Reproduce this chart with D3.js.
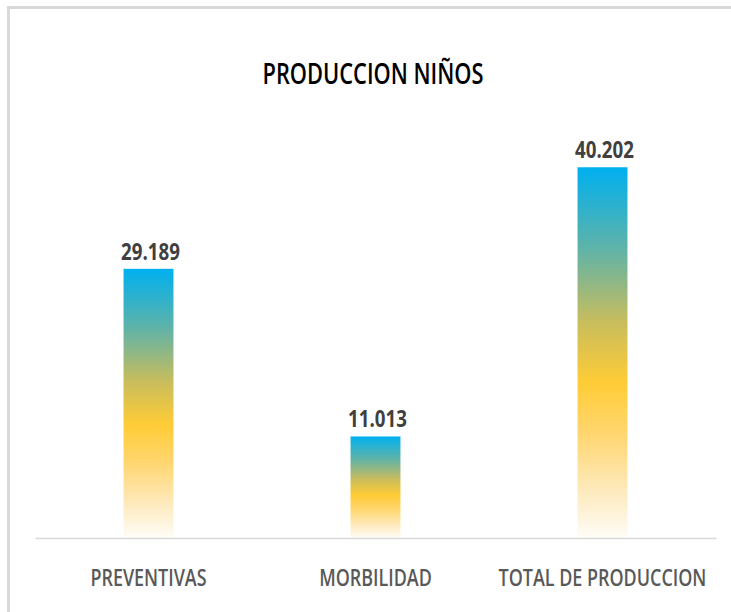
<!DOCTYPE html>
<html>
<head>
<meta charset="utf-8">
<script src="https://cdn.jsdelivr.net/npm/d3@7"></script>
<style>
  html, body { margin: 0; padding: 0; background: #fff; }
  svg { display: block; }
</style>
</head>
<body>
<svg id="chart" width="731" height="612"></svg>
<script>
const title = "PRODUCCION NIÑOS";
const categories = ["PREVENTIVAS", "MORBILIDAD", "TOTAL DE PRODUCCION"];
const values = [29.189, 11.013, 40.202];
const valueLabels = ["29.189", "11.013", "40.202"];
const yDomain = [0, 45];

const W = 731, H = 612;
const svg = d3.select("#chart");

// chart frame (only top and left edges visible in the crop)
svg.append("path").attr("d", `M8.5,${H} V7.5 H${W}`)
  .attr("fill", "none").attr("stroke", "#d9d9d9").attr("stroke-width", 3);

const plot = { left: 35, right: 716, top: 123, bottom: 538 };

const x = d3.scaleBand().domain(categories).range([plot.left, plot.right]).paddingInner(0.78).paddingOuter(0.39);
const y = d3.scaleLinear().domain(yDomain).range([plot.bottom, plot.top]);

// gradient
const defs = svg.append("defs");
const grad = defs.append("linearGradient").attr("id", "barGrad")
  .attr("x1", 0).attr("y1", 0).attr("x2", 0).attr("y2", 1);
[[0, "#00b0f0"], [0.22, "#5fb3a8"], [0.42, "#c9bd5c"], [0.58, "#ffcc36"], [0.72, "#ffd670"], [0.88, "#fdebc0"], [1, "#fffdf8"]]
  .forEach(([o, c]) => grad.append("stop").attr("offset", o).attr("stop-color", c));

const data = categories.map((c, i) => ({ c, v: values[i], label: valueLabels[i] }));

svg.append("g").selectAll("rect").data(data).join("rect")
  .attr("x", d => x(d.c))
  .attr("y", d => y(d.v))
  .attr("width", x.bandwidth())
  .attr("height", d => y(0) - y(d.v))
  .attr("fill", "url(#barGrad)");

// axis baseline
const axis = svg.append("g").attr("transform", `translate(0,${plot.bottom})`)
  .call(d3.axisBottom(x).tickSize(0).tickSizeOuter(0).tickPadding(0));
axis.select(".domain").attr("stroke", "#d9d9d9").attr("stroke-width", 1.5);
axis.selectAll(".tick text").remove();

const font = "'Open Sans', 'Liberation Sans', sans-serif";
const K = 0.78; // horizontal condensing to mimic narrow font

// category labels
svg.append("g").selectAll("text").data(data).join("text")
  .attr("transform", d => `translate(${x(d.c) + x.bandwidth() / 2},586) scale(${K},1)`)
  .attr("text-anchor", "middle")
  .attr("font-family", font)
  .attr("font-weight", 600)
  .attr("font-size", 23)
  .attr("fill", "#595959")
  .text(d => d.c);

// value labels
svg.append("g").selectAll("text").data(data).join("text")
  .attr("transform", d => `translate(${x(d.c) + x.bandwidth() / 2 + 2},${y(d.v) - 9}) scale(${K},1)`)
  .attr("text-anchor", "middle")
  .attr("font-family", font)
  .attr("font-weight", 700)
  .attr("font-size", 24)
  .attr("fill", "#404040")
  .text(d => d.label);

// title
svg.append("text")
  .attr("transform", `translate(373,84) scale(${K},1)`)
  .attr("text-anchor", "middle")
  .attr("font-family", font)
  .attr("font-weight", 600)
  .attr("font-size", 28)
  .attr("fill", "#000")
  .text(title);
</script>
</body>
</html>
